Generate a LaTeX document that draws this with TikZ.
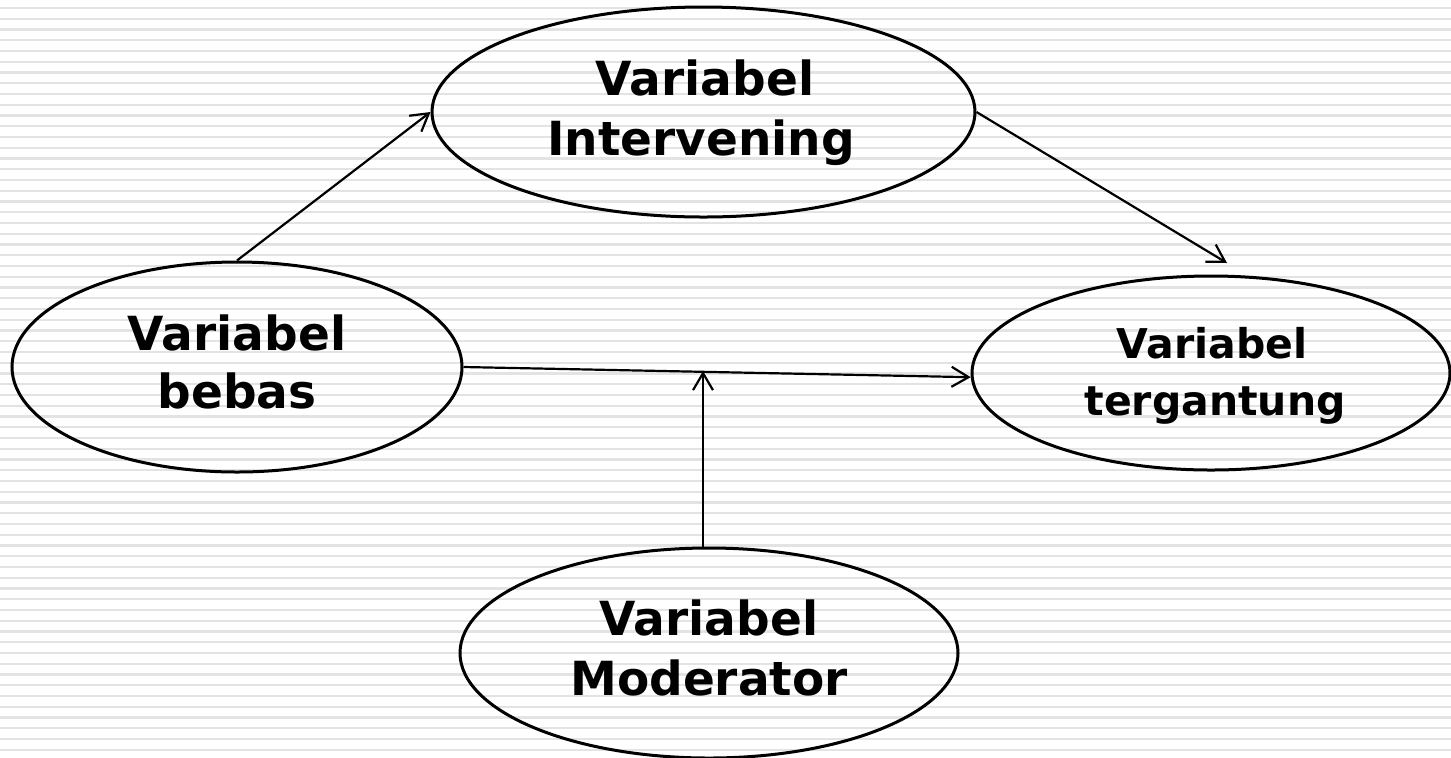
\documentclass[tikz,border=0pt]{standalone}
\usepackage{fontspec}
\setmainfont{DejaVu Sans}
\usetikzlibrary{shapes.geometric,arrows.meta}
\tikzset{
  ell/.style={ellipse, draw=black, line width=1.5pt, fill=none, inner sep=0pt},
  lbl/.style={anchor=base, inner sep=0pt, font=\bfseries\fontsize{23.5pt}{29pt}\selectfont},
  lbls/.style={anchor=base, inner sep=0pt, font=\bfseries\fontsize{20.5pt}{27pt}\selectfont},
  arr/.style={draw=black, line width=1.1pt, -{Straight Barb[length=8.5pt,width=10pt,line width=1.1pt]}},
  stripe/.style={draw=black!11, line width=1.2pt}
}
\begin{document}
\begin{tikzpicture}[x=0.5pt,y=-0.5pt]
\useasboundingbox (0,0) rectangle (1451,757);
\fill[white] (0,0) rectangle (1451,757);
\foreach \k in {0,...,70} {
  \draw[stripe] (0,{8+10.75*\k}) -- (1451,{8+10.75*\k});
}
% ellipses
\node[ell, minimum width=271.5pt, minimum height=105pt] (top) at (703.5,112) {};
\node[ell, minimum width=225pt, minimum height=105pt] (left) at (237,367) {};
\node[ell, minimum width=239pt, minimum height=97pt] (right) at (1211,373) {};
\node[ell, minimum width=249pt, minimum height=105pt] (bot) at (709,653) {};
% labels
\node[lbl] (t1) at (705,95) {Variabel};
\node[lbl] (t2) at (701,155) {Intervening};
\node[lbl] (l1) at (237,350) {Variabel};
\node[lbl] (l2) at (237,408) {bebas};
\node[lbls] (r1) at (1212,358) {Variabel};
\node[lbls] (r2) at (1215,415) {tergantung};
\node[lbl] (b1) at (709,635) {Variabel};
\node[lbl] (b2) at (709,695) {Moderator};
% connectors
\coordinate (tg) at (1227,263);
\coordinate (mod) at (703,371);
\draw[arr] (left.north) -- (top.west);
\draw[arr] (top.east) -- (tg);
\draw[arr] (left.east) -- (right.181);
\draw[arr] (bot.north -| mod) -- (mod);
\end{tikzpicture}
\end{document}
